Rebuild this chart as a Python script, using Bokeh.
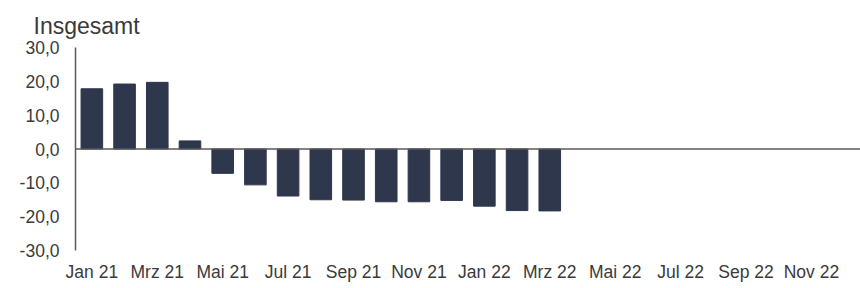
from bokeh.plotting import figure
from bokeh.models import FactorRange, Range1d, FixedTicker, CustomJSTickFormatter, Span
from bokeh.embed import file_html
from bokeh.resources import INLINE

months = ["Jan 21", "Feb 21", "Mrz 21", "Apr 21", "Mai 21", "Jun 21", "Jul 21", "Aug 21",
          "Sep 21", "Okt 21", "Nov 21", "Dez 21", "Jan 22", "Feb 22", "Mrz 22", "Apr 22",
          "Mai 22", "Jun 22", "Jul 22", "Aug 22", "Sep 22", "Okt 22", "Nov 22", "Dez 22"]
bar_months = months[:15]
values = [17.8, 19.2, 19.7, 2.4, -7.2, -10.6, -13.9, -15.0, -15.1, -15.6, -15.6, -15.2,
          -16.9, -18.2, -18.3]
y_ticks = [-30, -20, -10, 0, 10, 20, 30]
title_text = "Insgesamt"

FONT = "Liberation Sans"
TXT = "#3a3a3a"

p = figure(width=860, height=288, x_range=FactorRange(*months), y_range=Range1d(-30, 30),
           output_backend="svg", toolbar_location=None,
           min_border_left=75, min_border_right=0, min_border_top=47, min_border_bottom=38)

p.vbar(x=bar_months, top=values, width=0.66, color="#2F374D")

p.add_layout(Span(location=0, dimension="width", line_color="#595959", line_width=1.5))

p.title.text = title_text
p.title.text_font = FONT
p.title.text_font_size = "23px"
p.title.text_font_style = "normal"
p.title.text_color = TXT
p.title.align = "left"
p.title.offset = -42
p.title.standoff = 17

p.xgrid.visible = False
p.ygrid.visible = False
p.outline_line_color = None
p.background_fill_color = "white"
p.border_fill_color = "white"

xa = p.xaxis[0]
xa.axis_line_color = None
xa.major_tick_line_color = None
xa.minor_tick_line_color = None
xa.major_tick_out = 0
xa.major_label_standoff = 11
xa.major_label_text_font = FONT
xa.major_label_text_font_size = "17.5px"
xa.major_label_text_color = TXT
xa.formatter = CustomJSTickFormatter(code="return (index % 2 == 0) ? tick : '';")

ya = p.yaxis[0]
ya.ticker = FixedTicker(ticks=y_ticks)
ya.formatter = CustomJSTickFormatter(code="return tick.toFixed(1).replace('.', ',');")
ya.axis_line_color = "#595959"
ya.axis_line_width = 1.5
ya.major_tick_line_color = None
ya.minor_tick_line_color = None
ya.major_tick_out = 0
ya.major_label_standoff = 16
ya.major_label_text_font = FONT
ya.major_label_text_font_size = "17.5px"
ya.major_label_text_color = TXT

open("out.html", "w").write(file_html(p, INLINE))
